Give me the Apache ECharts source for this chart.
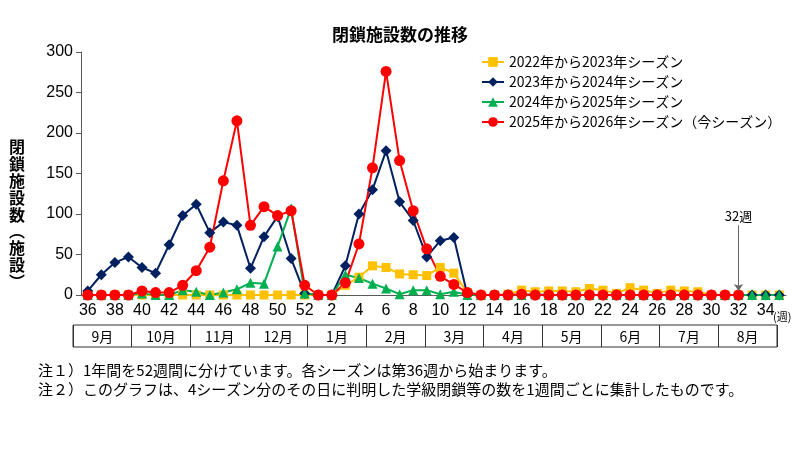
<!DOCTYPE html>
<html>
<head>
<meta charset="utf-8">
<script src="https://cdn.jsdelivr.net/npm/echarts@6/dist/echarts.min.js"></script>
<style>
  html, body { margin: 0; padding: 0; background: #fff; }
  #chart { width: 800px; height: 466px; }
</style>
</head>
<body>
<div id="chart"></div>
<script>
// weeks 36..52 then 1..35
const weeks = ['36','37','38','39','40','41','42','43','44','45','46','47','48','49','50','51','52',
  '1','2','3','4','5','6','7','8','9','10','11','12','13','14','15','16','17','18','19','20',
  '21','22','23','24','25','26','27','28','29','30','31','32','33','34','35']
const months = ['9月','10月','11月','12月','1月','2月','3月','4月','5月','6月','7月','8月']

const names = ['2022年から2023年シーズン', '2023年から2024年シーズン', '2024年から2025年シーズン', '2025年から2026年シーズン（今シーズン）']

const season2223 = [0,0,0,0,0,0,0,0,0,0,0,0,0,0,0,0,0,
  0,0,12,22,36,34,26,25,24,34,27,3,0,0,1,6,4,5,5,4,8,6,2,9,6,2,6,5,4,0,0,0,0,0,0]
const season2324 = [5,25,40,47,34,27,62,98,112,77,90,86,33,72,97,45,2,
  0,0,36,100,130,178,115,92,47,67,71,0,0,0,0,0,0,0,0,0,0,0,0,0,0,0,0,0,0,0,0,0,0,0,0]
const season2425 = [0,0,0,0,2,0,0,6,4,0,3,7,15,14,60,107,2,
  0,0,25,21,14,8,1,6,6,1,4,0,0,0,0,0,1,0,0,0,0,0,0,0,0,0,0,0,0,0,0,0,0,0,0]
const season2526 = [0,0,0,0,5,3,3,12,30,59,141,215,86,109,98,104,12,
  0,0,15,63,157,276,166,104,57,23,13,3,0,0,0,1,0,0,0,0,0,0,0,0,0,0,0,0,0,0,0,0,null,null,null]

const jp = "'Noto Sans CJK JP', sans-serif"
const num = "'Liberation Sans Narrow', 'Liberation Sans', sans-serif"

function makeSeries(name, data, color, symbol, size) {
    return {
        name: name,
        type: 'line',
        data: data,
        symbol: symbol,
        symbolSize: size,
        showAllSymbol: true,
        color: color,
        lineStyle: { width: 2, color: color },
        itemStyle: { color: color },
        xAxisIndex: 0,
        yAxisIndex: 0
    }
}

let dom = document.getElementById('chart')
let myChart = echarts.init(dom, null, { renderer: 'canvas' })

let red = makeSeries(names[3], season2526, '#ff0000', 'circle', 11)
red.markLine = {
    silent: true,
    symbol: ['none', 'arrow'],
    symbolSize: 7,
    lineStyle: { color: '#666', width: 1, type: 'solid' },
    itemStyle: { color: '#000' },
    label: { show: true, position: 'start', formatter: '32週', color: '#000', fontSize: 13, fontFamily: jp, distance: 3 },
    data: [[{ coord: ['32', 86] }, { coord: ['32', 5] }]]
}

option = {
    animation: false,
    textStyle: { fontFamily: jp },
    title: {
        text: '閉鎖施設数の推移',
        left: 'center',
        top: 21,
        textStyle: { fontSize: 17, fontWeight: 'bold', color: '#000', fontFamily: jp }
    },
    legend: {
        orient: 'vertical',
        left: 476,
        top: 50,
        itemWidth: 22,
        itemHeight: 12,
        itemGap: 6,
        textStyle: { fontSize: 14, color: '#000', fontFamily: jp },
        data: names
    },
    grid: [
        { left: 81, right: 14, top: 52, bottom: 171 },
        { left: 73, right: 23, top: 325, height: 22, show: true, borderColor: '#333', borderWidth: 1 }
    ],
    xAxis: [
        {
            type: 'category',
            gridIndex: 0,
            data: weeks,
            boundaryGap: true,
            axisLine: { lineStyle: { color: '#595959' } },
            axisTick: { inside: true, length: 5, interval: 0, lineStyle: { color: '#595959' } },
            axisLabel: { interval: 1, color: '#000', fontSize: 16, margin: 8, fontFamily: num }
        },
        {
            type: 'category',
            gridIndex: 1,
            data: months,
            axisLine: { show: false },
            axisTick: { show: false },
            splitLine: { show: true, interval: 0, lineStyle: { color: '#333' } },
            axisLabel: { inside: true, interval: 0, margin: 3, color: '#000', fontSize: 14, fontFamily: jp }
        }
    ],
    yAxis: [
        {
            type: 'value',
            gridIndex: 0,
            min: 0,
            max: 300,
            interval: 50,
            axisLine: { show: true, lineStyle: { color: '#595959' } },
            axisTick: { show: true, length: 5, lineStyle: { color: '#595959' } },
            splitLine: { show: false },
            axisLabel: { color: '#000', fontSize: 16, margin: 8, fontFamily: "'Liberation Sans', sans-serif" }
        },
        { type: 'value', gridIndex: 1, show: false }
    ],
    graphic: [
        {
            type: 'text', x: 17, y: 139,
            style: { text: '閉\n鎖\n施\n設\n数\n︵\n施\n設\n︶', fontSize: 16, fontWeight: 'bold', lineHeight: 16.8,
                align: 'center', verticalAlign: 'top', fill: '#000', fontFamily: jp }
        },
        {
            type: 'text', x: 773, y: 311,
            style: { text: '(週)', fontSize: 11, fill: '#000', fontFamily: jp }
        },
        {
            type: 'text', x: 38, y: 363,
            style: { text: '注１）1年間を52週間に分けています。各シーズンは第36週から始まります。', fontSize: 15, fill: '#000', fontFamily: jp }
        },
        {
            type: 'text', x: 38, y: 382,
            style: { text: '注２）このグラフは、4シーズン分のその日に判明した学級閉鎖等の数を1週間ごとに集計したものです。', fontSize: 15, fill: '#000', fontFamily: jp }
        }
    ],
    series: [
        makeSeries(names[0], season2223, '#ffc000', 'rect', 9),
        makeSeries(names[1], season2324, '#002060', 'diamond', 11),
        makeSeries(names[2], season2425, '#00b050', 'triangle', 10),
        red
    ]
}

if (option && typeof option === 'object') {
    myChart.setOption(option)
}
</script>
</body>
</html>
